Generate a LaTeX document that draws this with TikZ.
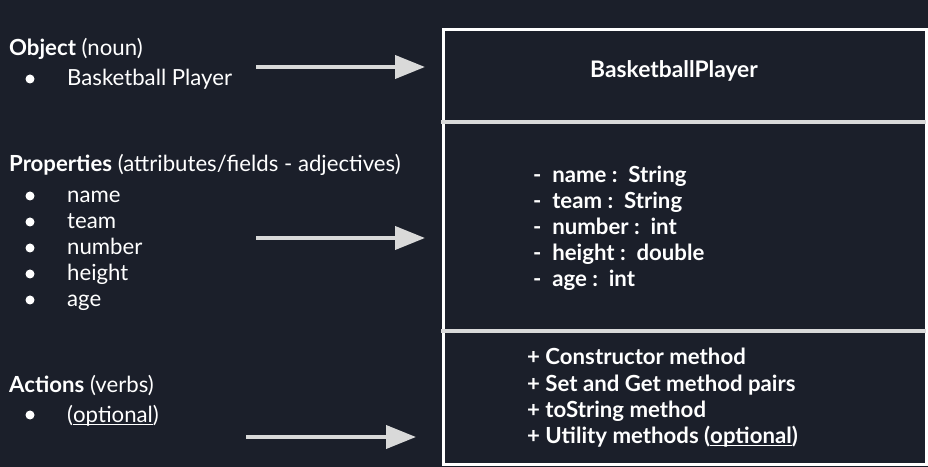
\documentclass[tikz,border=0pt]{standalone}
\usepackage{fontspec}
\setmainfont{Lato}
\usetikzlibrary{arrows.meta}
\definecolor{bg}{RGB}{27,31,42}
\definecolor{arrowgray}{RGB}{217,217,217}
\newcommand{\myul}[1]{\setbox0\hbox{#1}\rlap{\rule[-3bp]{\wd0}{1.4bp}}\box0}
\begin{document}
\begin{tikzpicture}[x=1bp,y=-1bp,
  txt/.style={anchor=base west, inner sep=0, text=white, font=\fontsize{22.2bp}{26bp}\selectfont},
  boldtxt/.style={txt, font=\fontsize{22.2bp}{26bp}\selectfont\bfseries},
  bul/.style={circle, fill=white, inner sep=0, minimum size=9bp},
  conn/.style={draw=arrowgray, line width=4bp, -{Triangle[length=30bp,width=23bp]}},
  divider/.style={draw=arrowgray, line width=4bp},
  classbox/.style={draw=white, fill=bg, line width=3bp, inner sep=0, anchor=north west}]
\useasboundingbox (0,0) rectangle (928,467);
\fill[bg] (0,0) rectangle (928,467);

% left column
\node[txt] (objh) at (9,56) {\textbf{Object} (noun)};
\node[bul] (b1) at (30,79) {};
\node[txt] (obj1) at (67,86) {Basketball Player};

\node[txt] (proph) at (9,172) {\textbf{Properties} (attributes/fields - adjectives)};
\node[bul] (b2) at (30,196) {};
\node[txt] (p1) at (67,203) {name};
\node[bul] (b3) at (30,222) {};
\node[txt] (p2) at (67,229) {team};
\node[bul] (b4) at (30,248) {};
\node[txt] (p3) at (67,255) {number};
\node[bul] (b5) at (30,274) {};
\node[txt] (p4) at (67,281) {height};
\node[bul] (b6) at (30,300) {};
\node[txt] (p5) at (67,307) {age};

\node[txt] (acth) at (9,392) {\textbf{Actions} (verbs)};
\node[bul] (b7) at (30,415) {};
\node[txt] (act1) at (67,422) {(\myul{optional})};

% class box
\node[classbox, minimum width=482.5bp, minimum height=435bp] (cls) at (442,28) {};
\draw[divider] (441,122) -- (926,122);
\draw[divider] (441,331) -- (926,331);

\node[boldtxt, anchor=base, font=\fontsize{22.8bp}{26bp}\selectfont\bfseries] (cname) at (674,78) {BasketballPlayer};

\node[boldtxt] (f1) at (533,183) {-\ \ name :\ \ String};
\node[boldtxt] (f2) at (533,209) {-\ \ team :\ \ String};
\node[boldtxt] (f3) at (533,235) {-\ \ number :\ \ int};
\node[boldtxt] (f4) at (533,261) {-\ \ height :\ \ double};
\node[boldtxt] (f5) at (533,287) {-\ \ age :\ \ int};

\node[boldtxt] (m1) at (527,365) {+ Constructor method};
\node[boldtxt] (m2) at (527,391) {+ Set and Get method pairs};
\node[boldtxt] (m3) at (527,417) {+ toString method};
\node[boldtxt] (m4) at (527,443) {+ Utility methods (\myul{optional})};

% arrows
\coordinate (a1s) at (256,67);
\coordinate (a1e) at (425,67);
\coordinate (a2s) at (256,238);
\coordinate (a2e) at (425,238);
\coordinate (a3s) at (246,437);
\coordinate (a3e) at (416,437);
\draw[conn] (a1s) -- (a1e);
\draw[conn] (a2s) -- (a2e);
\draw[conn] (a3s) -- (a3e);
\end{tikzpicture}
\end{document}
